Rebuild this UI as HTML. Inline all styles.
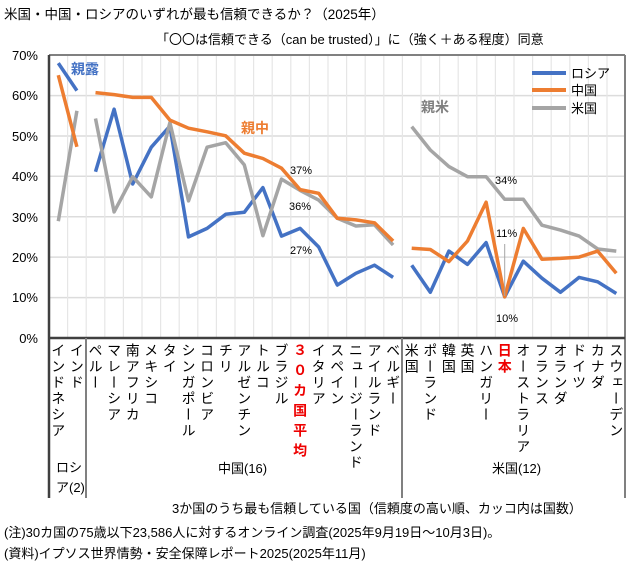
<!DOCTYPE html>
<html><head><meta charset="utf-8"><style>
body{margin:0;width:644px;height:564px;background:#fff;position:relative;overflow:hidden;font-family:"Liberation Sans","Noto Sans CJK JP",sans-serif;color:#000}
.t{position:absolute;white-space:nowrap;font-size:13px}
.v{position:absolute;top:343px;writing-mode:vertical-rl;font-size:14px;letter-spacing:2px;line-height:14px;white-space:nowrap;font-family:"Noto Sans CJK JP","IPAGothic",sans-serif}
</style></head><body>
<div class="t" style="left:4px;top:3px;font-size:13.5px">米国・中国・ロシアのいずれが最も信頼できるか？（2025年）</div>
<div class="t" style="left:156px;top:29px;font-size:13px">「〇〇は信頼できる（can be trusted）」に（強く＋ある程度）同意</div>
<svg width="644" height="564" style="position:absolute;left:0;top:0">
<g stroke="#dcdcdc" stroke-width="1.5">
<line x1="49" y1="95.6" x2="625" y2="95.6"/><line x1="49" y1="136" x2="625" y2="136"/><line x1="49" y1="176.3" x2="625" y2="176.3"/><line x1="49" y1="216.7" x2="625" y2="216.7"/><line x1="49" y1="257.1" x2="625" y2="257.1"/><line x1="49" y1="297.6" x2="625" y2="297.6"/>
</g>
<g stroke="#e6e6e6" stroke-width="1.2" id="vg"></g>
<g fill="none" stroke-width="3.5" stroke-linejoin="round">
<polyline stroke="#4472C4" points="58.3,63.1 76.9,90.6"/>
<polyline stroke="#4472C4" points="95.5,171.8 114.1,109.2 132.7,184 151.3,147.2 169.9,126.1 188.5,236.9 207.1,228.4 225.7,214.3 244.3,212.3 262.9,187.6 281.5,236.1 300.1,228.4 318.7,247 337.3,285 355.9,273.3 374.5,265.2 393.1,277.4"/>
<polyline stroke="#4472C4" points="411.7,265.2 430.3,292.3 448.9,251.1 467.5,264.4 486.1,242.6 504.7,296.8 523.3,261.2 541.9,278.2 560.5,292.3 579.1,277.4 597.7,281.8 616.3,293.5"/>
<polyline stroke="#A5A5A5" points="58.3,221.2 76.9,110.8"/>
<polyline stroke="#A5A5A5" points="95.5,118.5 114.1,211.9 132.7,176.7 151.3,196.9 169.9,122.5 188.5,200.9 207.1,147.2 225.7,142.7 244.3,164.9 262.9,235.7 281.5,179.1 300.1,190.4 318.7,200.1 337.3,218.3 355.9,226 374.5,224.8 393.1,245"/>
<polyline stroke="#A5A5A5" points="411.7,126.6 430.3,150 448.9,166.6 467.5,176.7 486.1,176.7 504.7,199.3 523.3,199.3 541.9,225.2 560.5,230.1 579.1,236.1 597.7,249 616.3,251.1"/>
<polyline stroke="#ED7D31" points="58.3,75.2 76.9,146.8"/>
<polyline stroke="#ED7D31" points="95.5,92.6 114.1,94.6 132.7,97.4 151.3,97.4 169.9,120.1 188.5,128.2 207.1,131.8 225.7,135.8 244.3,153.2 262.9,158.5 281.5,168.2 300.1,189.6 318.7,193.3 337.3,218.3 355.9,219.9 374.5,222.8 393.1,241"/>
<polyline stroke="#ED7D31" points="411.7,248.2 430.3,249.5 448.9,261.6 467.5,241 486.1,202.2 504.7,296.8 523.3,228.4 541.9,259.2 560.5,258.4 579.1,257.1 597.7,251.1 616.3,273.3"/>
</g>
<line x1="504.7" y1="244" x2="504.7" y2="296" stroke="#A5A5A5" stroke-width="1"/>
<line x1="49" y1="55" x2="625" y2="55" stroke="#808080" stroke-width="2"/>
<line x1="625" y1="55" x2="625" y2="498" stroke="#808080" stroke-width="2"/>
<line x1="49" y1="55" x2="49" y2="498" stroke="#404040" stroke-width="2.5"/>
<line x1="49" y1="338" x2="625" y2="338" stroke="#404040" stroke-width="2.5"/>
<line x1="86" y1="338" x2="86" y2="498" stroke="#808080" stroke-width="2"/>
<line x1="402" y1="338" x2="402" y2="498" stroke="#808080" stroke-width="2"/>
<g stroke-width="4"><line x1="532" y1="73" x2="566" y2="73" stroke="#4472C4"/><line x1="532" y1="90" x2="566" y2="90" stroke="#ED7D31"/><line x1="532" y1="108" x2="566" y2="108" stroke="#A5A5A5"/></g>
<g font-family="Liberation Sans, sans-serif" font-size="13" text-anchor="end">
<text x="38" y="60">70%</text><text x="38" y="100">60%</text><text x="38" y="141">50%</text><text x="38" y="181">40%</text><text x="38" y="222">30%</text><text x="38" y="262">20%</text><text x="38" y="302">10%</text><text x="38" y="343">0%</text>
</g>
<g font-family="Liberation Sans, sans-serif" font-size="11">
<text x="290" y="174">37%</text><text x="289" y="210">36%</text><text x="290" y="254">27%</text>
<text x="495" y="184">34%</text><text x="496" y="237">11%</text><text x="496" y="322">10%</text>
</g>
<g font-family="Noto Sans CJK JP, sans-serif" font-size="14" font-weight="bold">
<text x="71" y="74" fill="#4472C4">親露</text><text x="241" y="133" fill="#ED7D31">親中</text><text x="421" y="112" fill="#808080">親米</text>
</g>
<g font-family="Noto Sans CJK JP, sans-serif" font-size="13">
<text x="571" y="78">ロシア</text><text x="571" y="95">中国</text><text x="571" y="113">米国</text>
</g>
</svg>
<script>
var g=document.getElementById('vg');for(var j=1;j<31;j++){var x=49+18.6*j;var l=document.createElementNS('http://www.w3.org/2000/svg','line');l.setAttribute('x1',x);l.setAttribute('x2',x);l.setAttribute('y1',56);l.setAttribute('y2',337);g.appendChild(l);}
var names=["インドネシア","インド","ペルー","マレーシア","南アフリカ","メキシコ","タイ","シンガポール","コロンビア","チリ","アルゼンチン","トルコ","ブラジル","３０カ国平均","イタリア","スペイン","ニュージーランド","アイルランド","ベルギー","米国","ポーランド","韓国","英国","ハンガリー","日本","オーストラリア","フランス","オランダ","ドイツ","カナダ","スウェーデン"];
for(var i=0;i<names.length;i++){var d=document.createElement('div');d.className='v';d.textContent=names[i];d.style.left=(58.3+18.6*i-7)+'px';if(i==13||i==24){d.style.color='#e00';d.style.fontWeight='bold';}if(i==13){d.style.letterSpacing='6px';}document.body.appendChild(d);}
</script>
<div class="t" style="left:56px;top:458px;font-size:13px;line-height:20px">ロシ<br>ア(2)</div>
<div class="t" style="left:218px;top:458px">中国(16)</div>
<div class="t" style="left:492px;top:458px">米国(12)</div>
<div class="t" style="left:172px;top:498px">3か国のうち最も信頼している国（信頼度の高い順、カッコ内は国数）</div>
<div class="t" style="left:4px;top:522px">(注)30カ国の75歳以下23,586人に対するオンライン調査(2025年9月19日～10月3日)。</div>
<div class="t" style="left:4px;top:543px">(資料)イプソス世界情勢・安全保障レポート2025(2025年11月)</div>
</body></html>
